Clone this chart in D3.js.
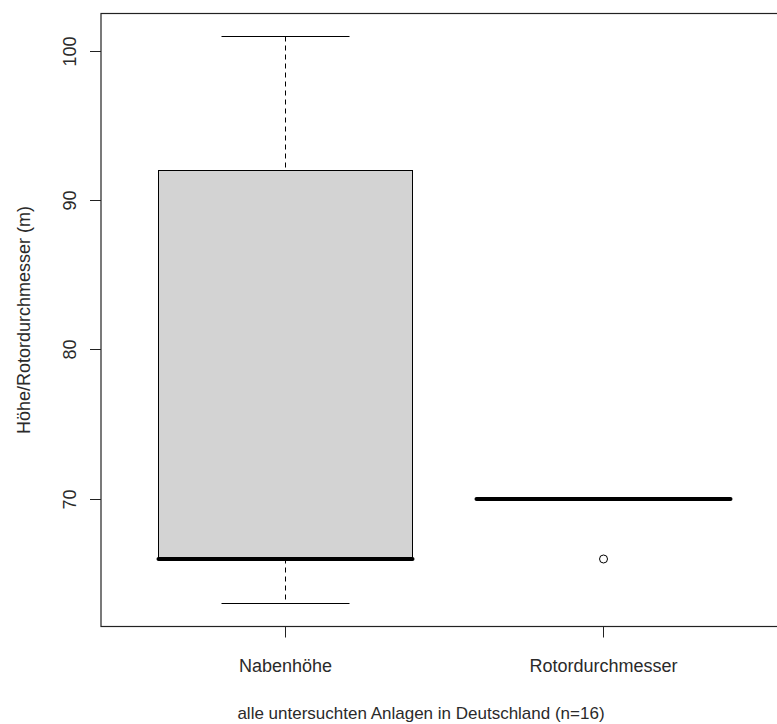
<!DOCTYPE html>
<html>
<head>
<meta charset="utf-8">
<script src="https://cdn.jsdelivr.net/npm/d3@7"></script>
<style>
  html, body { margin: 0; padding: 0; background: #ffffff; }
  svg { display: block; }
  text { font-family: "Liberation Sans", Arial, sans-serif; fill: #2a2a2a; }
</style>
</head>
<body>
<svg id="chart" width="777" height="724"></svg>
<script>
// ---- data ----
const categories   = ["Nabenhöhe", "Rotordurchmesser"];
const whiskerLow   = [63, 70];
const lowerQuart   = [66, 70];
const medians      = [66, 70];
const upperQuart   = [92, 70];
const whiskerHigh  = [101, 70];
const outliers     = [[], [66]];
const yTicks       = [70, 80, 90, 100];
const yLabel       = "Höhe/Rotordurchmesser (m)";
const xLabel       = "alle untersuchten Anlagen in Deutschland (n=16)";

// ---- layout ----
const plot = { left: 101, right: 788, top: 13.5, bottom: 626.5 };
const svg = d3.select("#chart");

const allVals = whiskerLow.concat(whiskerHigh, ...outliers);
const yMin = d3.min(allVals), yMax = d3.max(allVals);
const yPad = (yMax - yMin) * 0.04;
const y = d3.scaleLinear().domain([yMin - yPad, yMax + yPad]).range([plot.bottom, plot.top]);
const x = d3.scaleLinear().domain([0.42, 2.58]).range([plot.left, plot.right]);

const boxHalf = 0.4, stapleHalf = 0.2;
const snap = v => Math.round(v - 0.5) + 0.5;

const data = categories.map((c, i) => ({
  name: c, pos: i + 1,
  lo: whiskerLow[i], q1: lowerQuart[i], med: medians[i], q3: upperQuart[i], hi: whiskerHigh[i],
  out: outliers[i]
}));

const g = svg.append("g");

data.forEach(d => {
  const cx = snap(x(d.pos));
  const x0 = snap(x(d.pos - boxHalf)), x1 = snap(x(d.pos + boxHalf));
  const s0 = snap(x(d.pos - stapleHalf)), s1 = snap(x(d.pos + stapleHalf));
  // whiskers (dashed)
  g.append("line").attr("x1", cx).attr("x2", cx)
    .attr("y1", snap(y(d.hi))).attr("y2", snap(y(d.q3)))
    .attr("stroke", "#000").attr("stroke-width", 1).attr("stroke-dasharray", "5,4");
  g.append("line").attr("x1", cx).attr("x2", cx)
    .attr("y1", snap(y(d.q1))).attr("y2", snap(y(d.lo)))
    .attr("stroke", "#000").attr("stroke-width", 1).attr("stroke-dasharray", "5,4");
  // staples
  [d.hi, d.lo].forEach(v => {
    g.append("line").attr("x1", s0).attr("x2", s1)
      .attr("y1", snap(y(v))).attr("y2", snap(y(v)))
      .attr("stroke", "#000").attr("stroke-width", 1);
  });
  // box
  g.append("rect").attr("x", x0).attr("y", snap(y(d.q3)))
    .attr("width", x1 - x0).attr("height", snap(y(d.q1)) - snap(y(d.q3)))
    .attr("fill", "#d3d3d3").attr("stroke", "#000").attr("stroke-width", 1);
  // median
  g.append("line").attr("x1", x0).attr("x2", x1)
    .attr("y1", Math.round(y(d.med))).attr("y2", Math.round(y(d.med)))
    .attr("stroke", "#000").attr("stroke-width", 4).attr("stroke-linecap", "round");
  // outliers
  d.out.forEach(v => {
    g.append("circle").attr("cx", x(d.pos)).attr("cy", y(v)).attr("r", 4)
      .attr("fill", "none").attr("stroke", "#000").attr("stroke-width", 1);
  });
});

// plot frame
svg.append("rect").attr("x", plot.left).attr("y", plot.top)
  .attr("width", plot.right - plot.left).attr("height", plot.bottom - plot.top)
  .attr("fill", "none").attr("stroke", "#222").attr("stroke-width", 1.2);

// y axis ticks + labels
const tickLen = 11;
yTicks.forEach(t => {
  const yy = snap(y(t));
  svg.append("line").attr("x1", plot.left - tickLen).attr("x2", plot.left)
    .attr("y1", yy).attr("y2", yy).attr("stroke", "#222").attr("stroke-width", 1);
  svg.append("text").attr("transform", `translate(76,${yy}) rotate(-90)`)
    .attr("text-anchor", "middle").attr("font-size", 18).text(t);
});

// x axis ticks + labels
data.forEach(d => {
  const xx = snap(x(d.pos));
  svg.append("line").attr("x1", xx).attr("x2", xx)
    .attr("y1", plot.bottom).attr("y2", plot.bottom + tickLen)
    .attr("stroke", "#222").attr("stroke-width", 1);
  svg.append("text").attr("x", xx).attr("y", 672)
    .attr("text-anchor", "middle").attr("font-size", 18).text(d.name);
});

// axis titles
svg.append("text").attr("x", 421).attr("y", 719)
  .attr("text-anchor", "middle").attr("font-size", 17).text(xLabel);
svg.append("text").attr("transform", `translate(30,${(plot.top + plot.bottom) / 2}) rotate(-90)`)
  .attr("text-anchor", "middle").attr("font-size", 18).text(yLabel);
</script>
</body>
</html>
